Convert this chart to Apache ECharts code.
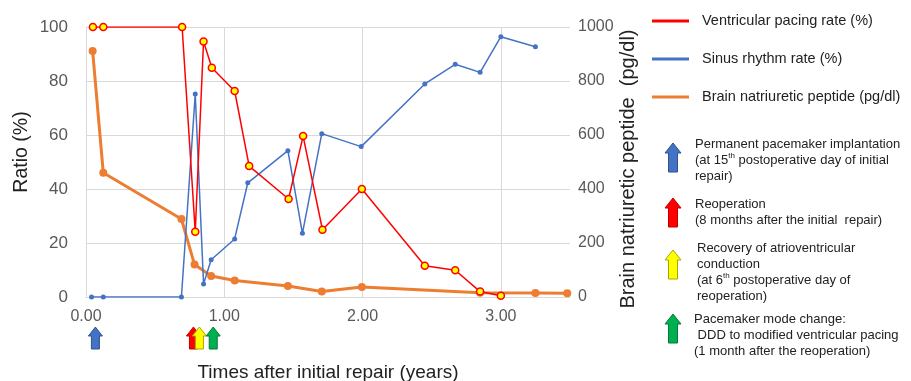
<!DOCTYPE html>
<html>
<head>
<meta charset="utf-8">
<script src="https://cdn.jsdelivr.net/npm/echarts@6/dist/echarts.min.js"></script>
<style>html,body{margin:0;padding:0;background:#fff}#c{width:911px;height:381px}</style>
</head>
<body>
<div id="c"></div>
<script>
// ---- data ----
var paceX = [0.05, 0.125, 0.695, 0.79, 0.85, 0.91, 1.075, 1.18, 1.465, 1.57, 1.71, 1.995, 2.45, 2.67, 2.85, 3.0];
var paceY = [100, 100, 100, 24.2, 94.6, 84.9, 76.3, 48.5, 36.3, 59.6, 24.9, 40, 11.6, 9.9, 2, 0.5];
var sinusX = [0.04, 0.125, 0.69, 0.79, 0.85, 0.905, 1.075, 1.17, 1.46, 1.565, 1.705, 1.99, 2.45, 2.67, 2.85, 3.0, 3.25];
var sinusY = [0, 0, 0, 75.2, 4.8, 13.8, 21.5, 42.3, 54.2, 23.6, 60.5, 55.7, 78.9, 86.2, 83.2, 96.4, 92.7];
var bnpX = [0.048, 0.125, 0.69, 0.785, 0.905, 1.075, 1.46, 1.705, 1.995, 2.85, 3.25, 3.48];
var bnpY = [911, 460, 289, 120, 78, 61, 41, 20, 37, 16, 15, 14];
var seriesNames = ['Ventricular pacing rate (%)', 'Sinus rhythm rate (%)', 'Brain natriuretic peptide (pg/dl)'];
var seriesColors = ['#FF0000', '#4472C4', '#ED7D31'];
var xTicks = [0, 1, 2, 3];
var xGridLines = [1, 2, 3];
var eventX = [0.068, 0.777, 0.82, 0.92];           // blue, red, yellow, green arrows
var eventColors = ['#4472C4', '#FF0000', '#FFFF00', '#00B050'];
var eventBorders = ['#2F528F', '#C00000', '#A6A600', '#007A38'];
var eventTexts = [
  ['Permanent pacemaker implantation', '(at 15{sup|th} postoperative day of initial', 'repair)'],
  ['Reoperation', '(8 months after the initial  repair)'],
  ['Recovery of atrioventricular', 'conduction', '(at 6{sup|th} postoperative day of', 'reoperation)'],
  ['Pacemaker mode change:', ' DDD to modified ventricular pacing', '(1 month after the reoperation)']
];

function pairs(xs, ys) { return xs.map(function (x, i) { return [x, ys[i]]; }); }

var FONT = '"Liberation Sans", Arial, sans-serif';
var chart = echarts.init(document.getElementById('c'));

chart.setOption({
  animation: false,
  textStyle: { fontFamily: FONT },
  grid: { left: 86, right: 341, top: 27, bottom: 84, containLabel: false, outerBoundsMode: 'none' },
  legend: {
    orient: 'vertical', left: 652, top: 13, itemGap: 22, padding: 0,
    itemWidth: 37, itemHeight: 3, icon: 'rect',
    data: seriesNames.map(function (n, i) {
      return { name: n, itemStyle: { color: seriesColors[i], borderWidth: 0 } };
    }),
    textStyle: { fontSize: 14.5, color: '#222', lineHeight: 16, padding: [0, 0, 0, 8], fontFamily: FONT }
  },
  xAxis: {
    type: 'value', min: 0, max: 3.5, interval: 1,
    name: 'Times after initial repair (years)', nameLocation: 'middle', nameGap: 66,
    nameTextStyle: { fontSize: 19, color: '#222', fontFamily: FONT },
    axisLine: { show: true, lineStyle: { color: '#D9D9D9' } },
    axisTick: { show: false },
    axisLabel: { fontSize: 16, color: '#595959', margin: 12, showMaxLabel: false,
      formatter: function (v) { return xTicks.indexOf(v) >= 0 ? v.toFixed(2) : ''; } },
    splitLine: { show: false }
  },
  yAxis: [{
    type: 'value', min: 0, max: 100, interval: 20, position: 'left',
    axisLine: { show: true, lineStyle: { color: '#D9D9D9' } },
    axisTick: { show: false },
    axisLabel: { fontSize: 17, color: '#595959', margin: 18 },
    splitLine: { show: true, lineStyle: { color: '#D9D9D9' } }
  }, {
    type: 'value', min: 0, max: 1000, interval: 200, position: 'right',
    axisLine: { show: false }, axisTick: { show: false },
    axisLabel: { fontSize: 16, color: '#595959', margin: 8, formatter: function (v) { return String(v); } },
    splitLine: { show: false }
  }],
  series: [{
    name: seriesNames[2], type: 'line', yAxisIndex: 1, data: pairs(bnpX, bnpY),
    lineStyle: { color: seriesColors[2], width: 3 }, itemStyle: { color: seriesColors[2] },
    symbol: 'circle', symbolSize: 8, z: 3,
    markLine: {
      silent: true, symbol: 'none', label: { show: false }, z: 1,
      lineStyle: { color: '#D9D9D9', width: 1, type: 'solid' },
      emphasis: { disabled: true },
      data: xGridLines.map(function (v) { return { xAxis: v }; })
    }
  }, {
    name: seriesNames[1], type: 'line', data: pairs(sinusX, sinusY),
    lineStyle: { color: seriesColors[1], width: 1.5 }, itemStyle: { color: seriesColors[1] },
    symbol: 'circle', symbolSize: 5, z: 4
  }, {
    name: seriesNames[0], type: 'line', data: pairs(paceX, paceY),
    lineStyle: { color: seriesColors[0], width: 1.5 },
    itemStyle: { color: '#FFFF00', borderColor: seriesColors[0], borderWidth: 1.5 },
    symbol: 'circle', symbolSize: 7, z: 5
  }]
});

function arrow(cx, top, w, h, headH, shaftW, fill, stroke) {
  return {
    type: 'polygon', z: 100,
    shape: { points: [
      [cx, top], [cx + w / 2, top + headH], [cx + shaftW / 2, top + headH], [cx + shaftW / 2, top + h],
      [cx - shaftW / 2, top + h], [cx - shaftW / 2, top + headH], [cx - w / 2, top + headH]
    ] },
    style: { fill: fill, stroke: stroke, lineWidth: 1 }
  };
}

var g = [];
g.push({
  type: 'text', x: 22, y: 152, rotation: Math.PI / 2, z: 100,
  style: { text: 'Ratio (%)', fontSize: 19.5, fill: '#222', fontFamily: FONT,
    align: 'center', verticalAlign: 'middle' }
});
g.push({
  type: 'text', x: 628, y: 169, rotation: Math.PI / 2, z: 100,
  style: { text: 'Brain natriuretic peptide  (pg/dl)', fontSize: 20, fill: '#222', fontFamily: FONT,
    align: 'center', verticalAlign: 'middle' }
});
eventX.forEach(function (x, i) {
  var px = chart.convertToPixel({ xAxisIndex: 0 }, x);
  g.push(arrow(px, 327, 14, 22, 9, 8, eventColors[i], eventBorders[i]));
});
var annTops = [136, 196, 240, 311];
var annArrowTops = [143, 198, 250, 314];
var annTextX = [695, 695, 697, 694];
eventTexts.forEach(function (lines, i) {
  g.push(arrow(673, annArrowTops[i], 16, 29, 10, 9, eventColors[i], eventBorders[i]));
  g.push({
    type: 'text', left: annTextX[i], top: annTops[i], z: 100,
    style: {
      text: lines.join('\n'), fontSize: 13, lineHeight: 16, fill: '#222', fontFamily: FONT,
      rich: { sup: { fontSize: 8, lineHeight: 16, verticalAlign: 'top', fill: '#222', fontFamily: FONT } }
    }
  });
});
chart.setOption({ graphic: g });
</script>
</body>
</html>
